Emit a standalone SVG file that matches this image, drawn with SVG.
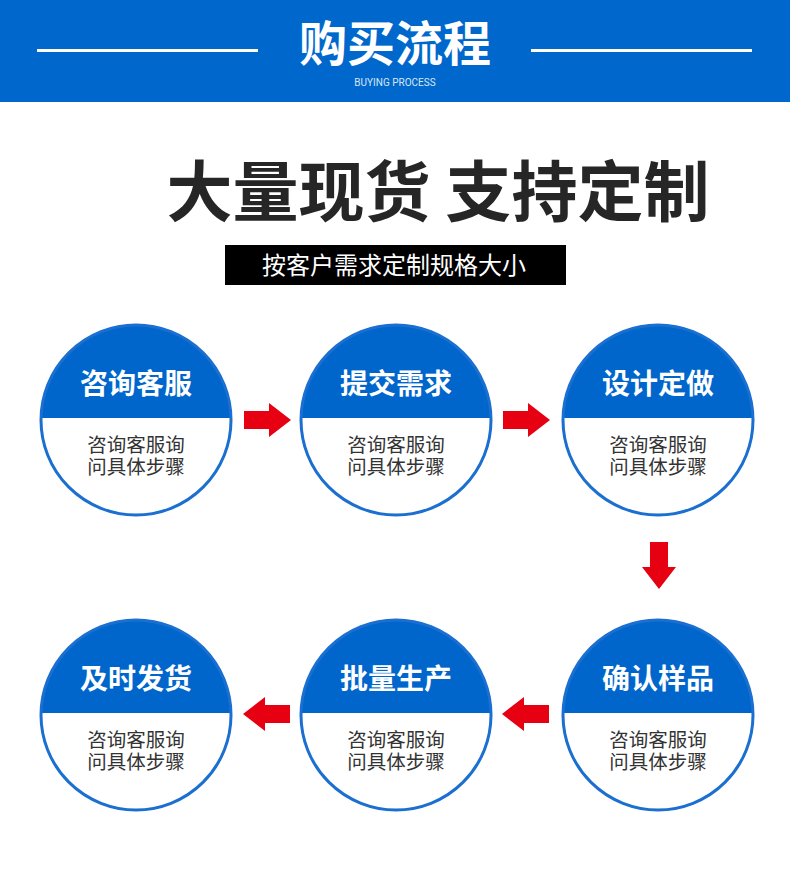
<svg xmlns="http://www.w3.org/2000/svg" width="790" height="874" viewBox="0 0 790 874">
<defs>
<style>
.t{font-family:"Noto Sans CJK SC","Noto Sans",sans-serif}
.lbl{font-size:28px;font-weight:bold;fill:#fff;text-anchor:middle}
.sub{font-size:19.5px;fill:#333;text-anchor:middle}
.ring{fill:none;stroke:#1a6fd0;stroke-width:3}
.arr{fill:#e60012}
</style>
<clipPath id="top"><rect x="-100" y="-100" width="200" height="98"/></clipPath>
<g id="circ">
<circle r="95" fill="#fff"/>
<circle r="95" fill="#0066cc" clip-path="url(#top)"/>
<circle r="95" class="ring"/>
</g>
<polygon id="ar" points="-23,-9 2,-9 2,-17 24,0 2,17 2,9 -23,9"/>
</defs>
<rect x="0" y="0" width="790" height="102" fill="#0068cc"/>
<rect x="37" y="49" width="221" height="3" fill="#fff"/>
<rect x="531" y="49" width="221" height="3" fill="#fff"/>
<text class="t" x="395" y="61" font-size="48" font-weight="bold" fill="#fff" text-anchor="middle">购买流程</text>
<text x="395" y="86" font-family="Roboto,sans-serif" font-size="10" fill="#d8e6f7" text-anchor="middle">BUYING PROCESS</text>
<text class="t" x="438" y="216" font-size="66" font-weight="bold" fill="#262626" text-anchor="middle">大量现货 支持定制</text>
<rect x="225" y="245" width="341" height="40" fill="#000"/>
<text class="t" x="394" y="274" font-size="24" fill="#fff" text-anchor="middle">按客户需求定制规格大小</text>
<g id="connectors">
<use href="#ar" class="arr" transform="translate(267,420)"/>
<use href="#ar" class="arr" transform="translate(526,420)"/>
<use href="#ar" class="arr" transform="translate(659,565) rotate(90)"/>
<use href="#ar" class="arr" transform="translate(526,714) rotate(180)"/>
<use href="#ar" class="arr" transform="translate(267,714) rotate(180)"/>
</g>
<g id="n1" transform="translate(136,420)"><use href="#circ"/><text class="t lbl" y="-26">咨询客服</text><text class="t sub"><tspan x="0" y="32">咨询客服询</tspan><tspan x="0" y="54">问具体步骤</tspan></text></g>
<g id="n2" transform="translate(396,420)"><use href="#circ"/><text class="t lbl" y="-26">提交需求</text><text class="t sub"><tspan x="0" y="32">咨询客服询</tspan><tspan x="0" y="54">问具体步骤</tspan></text></g>
<g id="n3" transform="translate(658,420)"><use href="#circ"/><text class="t lbl" y="-26">设计定做</text><text class="t sub"><tspan x="0" y="32">咨询客服询</tspan><tspan x="0" y="54">问具体步骤</tspan></text></g>
<g id="n4" transform="translate(658,715)"><use href="#circ"/><text class="t lbl" y="-26">确认样品</text><text class="t sub"><tspan x="0" y="32">咨询客服询</tspan><tspan x="0" y="54">问具体步骤</tspan></text></g>
<g id="n5" transform="translate(396,715)"><use href="#circ"/><text class="t lbl" y="-26">批量生产</text><text class="t sub"><tspan x="0" y="32">咨询客服询</tspan><tspan x="0" y="54">问具体步骤</tspan></text></g>
<g id="n6" transform="translate(136,715)"><use href="#circ"/><text class="t lbl" y="-26">及时发货</text><text class="t sub"><tspan x="0" y="32">咨询客服询</tspan><tspan x="0" y="54">问具体步骤</tspan></text></g>
</svg>
